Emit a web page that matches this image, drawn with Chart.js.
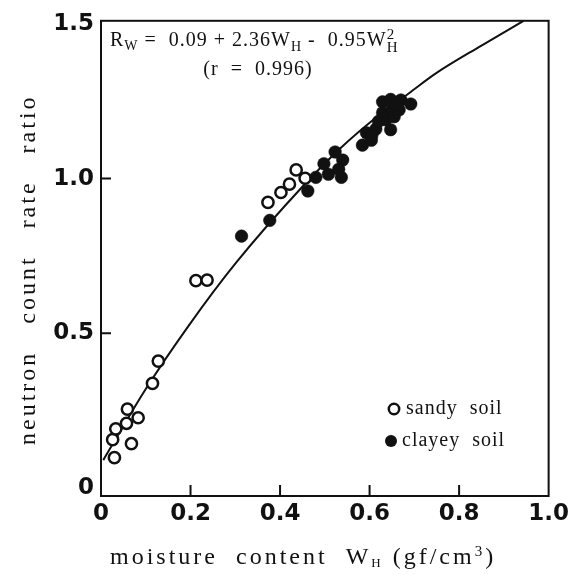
<!DOCTYPE html>
<html lang="en">
<head>
<meta charset="UTF-8">
<script src="https://cdn.jsdelivr.net/npm/chart.js"></script>
<title>neutron count rate ratio</title>
<style>
    html, body { margin: 0; padding: 0; background: #fff; }
</style>
</head>
<body>
<canvas id="grafico" width="573" height="574"></canvas>
<script>
    // sandy soil (open circles)
    var sandyX = [0.030, 0.068, 0.026, 0.033, 0.057, 0.083, 0.059, 0.115, 0.128, 0.212, 0.237, 0.373, 0.402, 0.421, 0.436, 0.456];
    var sandyY = [0.098, 0.143, 0.156, 0.191, 0.209, 0.227, 0.255, 0.338, 0.410, 0.670, 0.672, 0.923, 0.955, 0.982, 1.028, 1.001];
    // clayey soil (filled circles)
    var clayeyX = [0.314, 0.377, 0.462, 0.480, 0.498, 0.508, 0.523, 0.540, 0.531, 0.537,
                   0.584, 0.604, 0.593, 0.614, 0.605, 0.647, 0.636, 0.655, 0.629, 0.651,
                   0.666, 0.629, 0.647, 0.670, 0.692, 0.660, 0.620];
    var clayeyY = [0.814, 0.865, 0.960, 1.004, 1.048, 1.014, 1.086, 1.060, 1.030, 1.004,
                   1.108, 1.124, 1.148, 1.160, 1.140, 1.158, 1.190, 1.200, 1.213, 1.224,
                   1.222, 1.248, 1.256, 1.254, 1.241, 1.238, 1.185];
    // fitted curve
    var curvaX = [0.005, 0.100, 0.198, 0.300, 0.454, 0.536, 0.621, 0.688, 0.748, 0.850, 0.944];
    var curvaY = [0.090, 0.320, 0.529, 0.725, 0.980, 1.100, 1.205, 1.276, 1.340, 1.430, 1.510];
    var xTicks = [0, 0.2, 0.4, 0.6, 0.8, 1.0];
    var yTicks = [0, 0.5, 1.0, 1.5];

    function pontos(xs, ys) {
        return xs.map((x, i) => ({ x: x, y: ys[i] }));
    }

    function rotulo(v) {
        return v === 0 ? '0' : v.toFixed(1);
    }

    // escreve pedaços de texto lado a lado: [texto, fonte, deslocamento y]
    function escrever(ctx, partes, x, y) {
        var cx = x;
        partes.forEach(p => {
            ctx.font = p[1];
            ctx.fillText(p[0], cx, y + p[2]);
            cx += ctx.measureText(p[0]).width;
        });
        return cx - x;
    }

    const moldura = {
        id: 'moldura',
        afterDatasetsDraw(chart) {
            const { ctx, chartArea: a, scales: { x, y } } = chart;
            ctx.save();
            ctx.strokeStyle = '#111';
            ctx.lineWidth = 2;
            ctx.strokeRect(a.left, a.top, a.right - a.left, a.bottom - a.top);
            ctx.beginPath();
            xTicks.slice(1, -1).forEach(v => {
                const px = x.getPixelForValue(v);
                ctx.moveTo(px, a.bottom);
                ctx.lineTo(px, a.bottom - 11);
            });
            yTicks.slice(1, -1).forEach(v => {
                const py = y.getPixelForValue(v);
                ctx.moveTo(a.left, py);
                ctx.lineTo(a.left + 10, py);
            });
            ctx.stroke();
            ctx.restore();
        }
    };

    const textos = {
        id: 'textos',
        afterDraw(chart) {
            const ctx = chart.ctx;
            const serif = 'Liberation Serif';
            ctx.save();
            ctx.fillStyle = '#111';
            ctx.textBaseline = 'alphabetic';
            ctx.textAlign = 'left';

            // equação
            ctx.letterSpacing = '1px';
            var f20 = '20px "' + serif + '"', f14 = '14px "' + serif + '"';
            var eq = [['R', f20, 0], ['W', f14, 4], [' =  0.09 + 2.36W', f20, 0], ['H', f14, 5], [' -  0.95W', f20, 0]];
            var xe = 110 + escrever(ctx, eq, 110, 46);
            ctx.font = '15px "' + serif + '"';
            ctx.fillText('2', xe, 39);
            ctx.fillText('H', xe, 52);
            ctx.font = f20;
            ctx.textAlign = 'center';
            ctx.fillText('(r  =  0.996)', 258, 75);

            // legenda
            ctx.textAlign = 'left';
            ctx.textBaseline = 'middle';
            ctx.font = '20px "' + serif + '"';
            ctx.lineWidth = 2.5;
            ctx.strokeStyle = '#111';
            ctx.beginPath();
            ctx.arc(394, 409, 5.2, 0, Math.PI * 2);
            ctx.fillStyle = '#fff';
            ctx.fill();
            ctx.stroke();
            ctx.fillStyle = '#111';
            ctx.fillText('sandy  soil', 406, 409);
            ctx.beginPath();
            ctx.arc(391, 441, 6, 0, Math.PI * 2);
            ctx.fill();
            ctx.fillText('clayey  soil', 402, 441);

            // título do eixo x
            ctx.textBaseline = 'alphabetic';
            ctx.letterSpacing = '3px';
            var f24 = '24px "' + serif + '"', f13 = '13px "' + serif + '"', f15 = '15px "' + serif + '"';
            var tx = [['moisture  content  W', f24, 0], ['H', f13, 3], [' (gf/cm', f24, 0], ['3', f15, -8], [')', f24, 0]];
            escrever(ctx, tx, 110, 564);

            // título do eixo y
            ctx.translate(35, 445);
            ctx.rotate(-Math.PI / 2);
            ctx.font = f24;
            ctx.fillText('neutron   count   rate   ratio', 0, 0);
            ctx.restore();
        }
    };

    const fonteTicks = { family: 'DejaVu Sans', weight: 'bold', size: 23 };

    var grafico = new Chart(document.getElementById('grafico'), {
        type: 'scatter',
        data: {
            datasets: [{
                label: 'curva',
                data: pontos(curvaX, curvaY),
                showLine: true,
                borderColor: '#111',
                borderWidth: 2,
                pointRadius: 0,
                cubicInterpolationMode: 'monotone',
                fill: false,
                order: 3
            }, {
                label: 'sandy soil',
                data: pontos(sandyX, sandyY),
                pointRadius: 5.6,
                pointBorderWidth: 2.5,
                pointBackgroundColor: '#fff',
                pointBorderColor: '#111',
                order: 2
            }, {
                label: 'clayey soil',
                data: pontos(clayeyX, clayeyY),
                pointRadius: 6.3,
                pointBorderWidth: 0.5,
                pointBackgroundColor: '#111',
                pointBorderColor: '#111',
                order: 1
            }]
        },
        options: {
            responsive: false,
            animation: false,
            devicePixelRatio: 1,
            layout: { padding: { top: 17, right: 23, left: 0, bottom: 0 } },
            plugins: {
                legend: { display: false },
                tooltip: { enabled: false }
            },
            scales: {
                x: {
                    type: 'linear',
                    min: 0,
                    max: 1,
                    afterBuildTicks: s => { s.ticks = xTicks.map(v => ({ value: v })); },
                    afterFit: s => { s.height = 78; },
                    grid: { display: false, drawTicks: false },
                    border: { display: false },
                    ticks: {
                        color: '#111',
                        font: fonteTicks,
                        padding: 4,
                        maxRotation: 0,
                        autoSkip: false,
                        callback: v => rotulo(v)
                    }
                },
                y: {
                    type: 'linear',
                    min: -0.026,
                    max: 1.51,
                    afterBuildTicks: s => { s.ticks = yTicks.map(v => ({ value: v })); },
                    afterFit: s => { s.width = 101; },
                    grid: { display: false, drawTicks: false },
                    border: { display: false },
                    ticks: {
                        color: '#111',
                        font: fonteTicks,
                        padding: 7,
                        autoSkip: false,
                        callback: v => rotulo(v)
                    }
                }
            }
        },
        plugins: [moldura, textos]
    });
</script>
</body>
</html>
